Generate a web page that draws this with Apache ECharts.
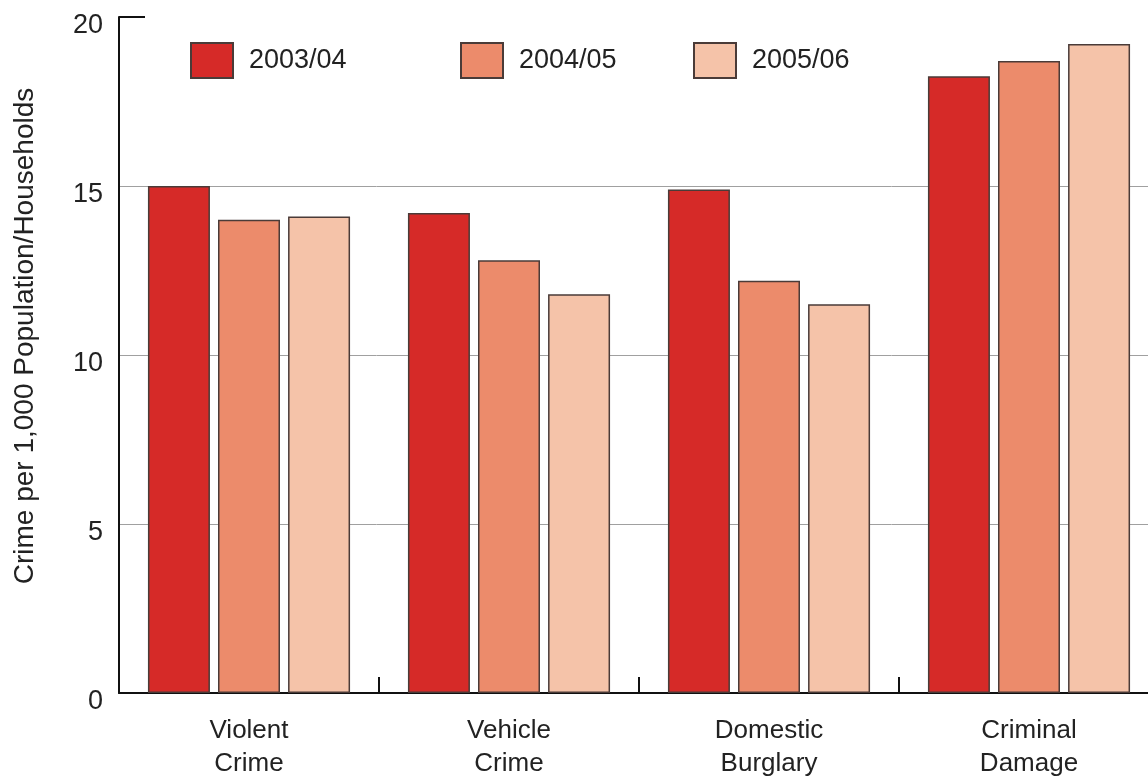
<!DOCTYPE html>
<html>
<head>
<meta charset="utf-8">
<script src="https://cdn.jsdelivr.net/npm/echarts@6/dist/echarts.min.js"></script>
<style>
html,body{margin:0;padding:0;background:#fff;}
#chart{width:1148px;height:778px;}
</style>
</head>
<body>
<div id="chart"></div>
<script>
const categories = ['Violent\nCrime', 'Vehicle\nCrime', 'Domestic\nBurglary', 'Criminal\nDamage'];
const seriesNames = ['2003/04', '2004/05', '2005/06'];
const values2003 = [15.0, 14.2, 14.9, 18.25];
const values2004 = [14.0, 12.8, 12.2, 18.7];
const values2005 = [14.1, 11.8, 11.5, 19.2];
const yTicks = [0, 5, 10, 15, 20];
const colors = ['#d62a28', '#ec8b6b', '#f5c3a9'];

const FONT = 'Liberation Sans, Arial, sans-serif';
const GRID_LEFT = 119;
const chart = echarts.init(document.getElementById('chart'), null, {renderer: 'canvas'});

const allValues = [values2003, values2004, values2005];
const legendLefts = [190, 460, 693];

const option = {
  backgroundColor: '#ffffff',
  animation: false,
  textStyle: {fontFamily: FONT},
  grid: {left: GRID_LEFT, width: 1040, top: 17, bottom: 85, containLabel: false, outerBoundsMode: 'none'},
  legend: seriesNames.map((n, i) => ({
    data: [n],
    left: legendLefts[i],
    top: 42,
    padding: 0,
    icon: 'rect',
    itemWidth: 42,
    itemHeight: 35,
    itemGap: 0,
    textStyle: {fontSize: 27, color: '#222', fontFamily: FONT, padding: [0, 0, 0, 11]}
  })),
  xAxis: {
    type: 'category',
    data: categories,
    axisLine: {show: true, lineStyle: {color: '#111', width: 2}},
    axisTick: {show: true, inside: true, length: 16, alignWithLabel: false, lineStyle: {color: '#111', width: 2}},
    axisLabel: {fontSize: 26, color: '#222', lineHeight: 33, margin: 21, fontFamily: FONT},
    splitLine: {show: false}
  },
  yAxis: {
    type: 'value',
    min: yTicks[0],
    max: yTicks[yTicks.length - 1],
    interval: 5,
    name: 'Crime per 1,000 Population/Households',
    nameLocation: 'middle',
    nameGap: 80,
    nameRotate: 90,
    nameTextStyle: {fontSize: 28, color: '#222', fontFamily: FONT, padding: [0, 0, 0, 38]},
    axisLine: {show: true, lineStyle: {color: '#111', width: 2}},
    axisTick: {show: false},
    axisLabel: {fontSize: 27, color: '#222', margin: 16, verticalAlign: 'top', padding: [-5, 0, 0, 0], fontFamily: FONT},
    splitLine: {show: true, showMaxLine: false, showMinLine: false, lineStyle: {color: '#a0a0a0', width: 1}}
  },
  series: seriesNames.map((n, i) => ({
    name: n,
    type: 'bar',
    data: allValues[i],
    barWidth: 62,
    barGap: '13%',
    itemStyle: {color: colors[i], borderColor: '#4a3b38', borderWidth: 1.5},
    emphasis: {disabled: true}
  }))
};
chart.setOption(option);

// short black tick at the top value of the y axis
const yTop = chart.convertToPixel({yAxisIndex: 0}, yTicks[yTicks.length - 1]);
chart.setOption({
  graphic: [{
    type: 'line',
    shape: {x1: GRID_LEFT, y1: yTop, x2: GRID_LEFT + 26, y2: yTop},
    style: {stroke: '#111', lineWidth: 2}
  }]
});
</script>
</body>
</html>
